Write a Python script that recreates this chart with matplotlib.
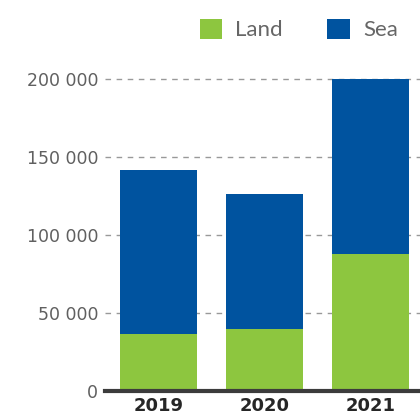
import numpy as np
import matplotlib.pyplot as plt

years = ['2019', '2020', '2021']
land = [36900, 39900, 88000]
sea = [141600 - 36900, 126500 - 39900, 200000 - 88000]
yticks = [0, 50000, 100000, 150000, 200000]
ytick_labels = ['0', '50 000', '100 000', '150 000', '200 000']

green = '#8dc63f'
blue = '#00539f'

fig = plt.figure(figsize=(4.2, 4.19), dpi=100)
ax = fig.add_axes([0.25, 0.066, 0.75, 0.7446])

x = np.arange(len(years))
ax.bar(x, land, width=0.726, color=green, label='Land', zorder=2)
ax.bar(x, sea, bottom=land, width=0.726, color=blue, label='Sea', zorder=2, clip_on=False)

ax.set_xlim(-0.505, 2.467)
ax.set_ylim(0, 200000)
ax.set_yticks(yticks)
ax.set_yticklabels(ytick_labels, color='#606060', fontsize=12.5, family='DejaVu Sans')
ax.set_xticks(x)
ax.set_xticklabels(years, fontsize=13, fontweight='bold', color='#262626')
ax.tick_params(axis='both', length=0)
ax.tick_params(axis='y', pad=5)
ax.tick_params(axis='x', pad=4)

# dashed grid and heavy baseline
for t in yticks[1:]:
    ax.axhline(t, color='#999999', linewidth=1, linestyle=(0, (4, 4)), zorder=1, clip_on=False)
ax.axhline(0, color='#3c3c3c', linewidth=3, zorder=3, clip_on=False)

for s in ax.spines.values():
    s.set_visible(False)

fig.legend(loc='upper right', bbox_to_anchor=(1.0, 1.008), ncol=2, frameon=False,
           prop={'family': 'Lato', 'size': 16}, labelcolor='#666666',
           handlelength=1.0, handleheight=1.0, handletextpad=0.6, columnspacing=2.0,
           borderaxespad=0.6)

fig.savefig('out.png', dpi=100)
